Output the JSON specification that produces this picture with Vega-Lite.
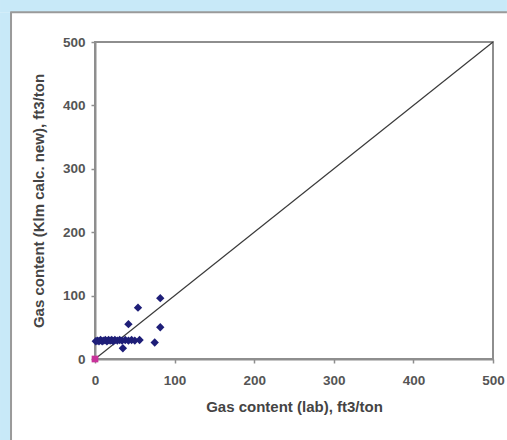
{
  "$schema": "https://vega.github.io/schema/vega-lite/v6.json",
  "usermeta": {"embedOptions": {"actions": false}},
  "width": 398,
  "height": 317,
  "autosize": "none",
  "padding": {"left": 95, "top": 42, "right": 14, "bottom": 81},
  "background": "#ffffff",
  "config": {
    "font": "Liberation Sans",
    "view": {"stroke": "#8e8e8e", "strokeWidth": 2},
    "axis": {
      "grid": false,
      "domainColor": "#8e8e8e",
      "domainWidth": 2,
      "tickColor": "#8e8e8e",
      "tickWidth": 1.5,
      "tickSize": 4,
      "labelFont": "Liberation Sans",
      "labelFontSize": 13.5,
      "labelFontWeight": "bold",
      "labelColor": "#555555",
      "labelFlush": false,
      "titleFont": "Liberation Sans",
      "titleFontSize": 15,
      "titleFontWeight": "bold",
      "titleColor": "#444444",
      "zindex": 1
    }
  },
  "datasets": {
    "points": [
      {"lab": 1, "calc": 28}, {"lab": 3, "calc": 29}, {"lab": 5, "calc": 28}, {"lab": 7, "calc": 30},
      {"lab": 9, "calc": 28}, {"lab": 11, "calc": 29}, {"lab": 13, "calc": 30}, {"lab": 15, "calc": 28},
      {"lab": 17, "calc": 30}, {"lab": 19, "calc": 29}, {"lab": 21, "calc": 30}, {"lab": 23, "calc": 28},
      {"lab": 25, "calc": 30}, {"lab": 28, "calc": 29}, {"lab": 31, "calc": 30}, {"lab": 34, "calc": 29},
      {"lab": 38, "calc": 30}, {"lab": 42, "calc": 29}, {"lab": 46, "calc": 30}, {"lab": 50, "calc": 29},
      {"lab": 56, "calc": 30},
      {"lab": 35, "calc": 17}, {"lab": 42, "calc": 55}, {"lab": 54, "calc": 81},
      {"lab": 82, "calc": 96}, {"lab": 82, "calc": 50}, {"lab": 75, "calc": 26}
    ],
    "line": [{"lab": 0, "calc": 0}, {"lab": 500, "calc": 500}],
    "origin": [{"lab": 0, "calc": 0}],
    "frame": [
      {"part": "left", "x1": -119.3, "x2": -105.5, "y1": -127.7, "y2": 547},
      {"part": "top", "x1": -119.3, "x2": 517.5, "y1": 547, "y2": 566.2}
    ],
    "border": [
      {"part": "left", "x1": -105.5, "x2": -105.5, "y1": -127.7, "y2": 547},
      {"part": "top", "x1": -106.5, "x2": 517.5, "y1": 547, "y2": 547}
    ]
  },
  "layer": [
    {
      "data": {"name": "frame"},
      "mark": {"type": "rect", "fill": "#c8e9f8", "clip": false},
      "encoding": {
        "x": {"field": "x1", "type": "quantitative", "scale": {"domain": [0, 500], "nice": false}, "axis": {"values": [0, 100, 200, 300, 400, 500], "title": "Gas content (lab), ft3/ton", "labelPadding": 10, "titlePadding": 13}},
        "x2": {"field": "x2"},
        "y": {"field": "y1", "type": "quantitative", "scale": {"domain": [0, 500], "nice": false}, "axis": {"values": [0, 100, 200, 300, 400, 500], "title": "Gas content (Klm calc. new), ft3/ton", "labelPadding": 6, "titlePadding": 16}},
        "y2": {"field": "y2"}
      }
    },
    {
      "data": {"name": "border"},
      "mark": {"type": "rule", "color": "#9a9a9a", "strokeWidth": 2, "clip": false},
      "encoding": {
        "x": {"field": "x1", "type": "quantitative", "axis": {"values": [0, 100, 200, 300, 400, 500], "title": "Gas content (lab), ft3/ton", "labelPadding": 10, "titlePadding": 13}},
        "x2": {"field": "x2"},
        "y": {"field": "y1", "type": "quantitative", "axis": {"values": [0, 100, 200, 300, 400, 500], "title": "Gas content (Klm calc. new), ft3/ton", "labelPadding": 6, "titlePadding": 16}},
        "y2": {"field": "y2"}
      }
    },
    {
      "data": {"name": "line"},
      "mark": {"type": "line", "color": "#3a3a3a", "strokeWidth": 1.2},
      "encoding": {
        "x": {"field": "lab", "type": "quantitative", "axis": {"values": [0, 100, 200, 300, 400, 500], "title": "Gas content (lab), ft3/ton", "labelPadding": 10, "titlePadding": 13}},
        "y": {"field": "calc", "type": "quantitative", "axis": {"values": [0, 100, 200, 300, 400, 500], "title": "Gas content (Klm calc. new), ft3/ton", "labelPadding": 6, "titlePadding": 16}}
      }
    },
    {
      "data": {"name": "points"},
      "mark": {"type": "point", "shape": "diamond", "filled": true, "color": "#1e1e78", "size": 70, "opacity": 1},
      "encoding": {
        "x": {"field": "lab", "type": "quantitative", "axis": {"values": [0, 100, 200, 300, 400, 500], "title": "Gas content (lab), ft3/ton", "labelPadding": 10, "titlePadding": 13}},
        "y": {"field": "calc", "type": "quantitative", "axis": {"values": [0, 100, 200, 300, 400, 500], "title": "Gas content (Klm calc. new), ft3/ton", "labelPadding": 6, "titlePadding": 16}}
      }
    },
    {
      "data": {"name": "origin"},
      "mark": {"type": "point", "shape": "square", "filled": true, "color": "#c8329a", "size": 45, "opacity": 1, "clip": false},
      "encoding": {
        "x": {"field": "lab", "type": "quantitative", "axis": {"values": [0, 100, 200, 300, 400, 500], "title": "Gas content (lab), ft3/ton", "labelPadding": 10, "titlePadding": 13}},
        "y": {"field": "calc", "type": "quantitative", "axis": {"values": [0, 100, 200, 300, 400, 500], "title": "Gas content (Klm calc. new), ft3/ton", "labelPadding": 6, "titlePadding": 16}}
      }
    }
  ]
}
